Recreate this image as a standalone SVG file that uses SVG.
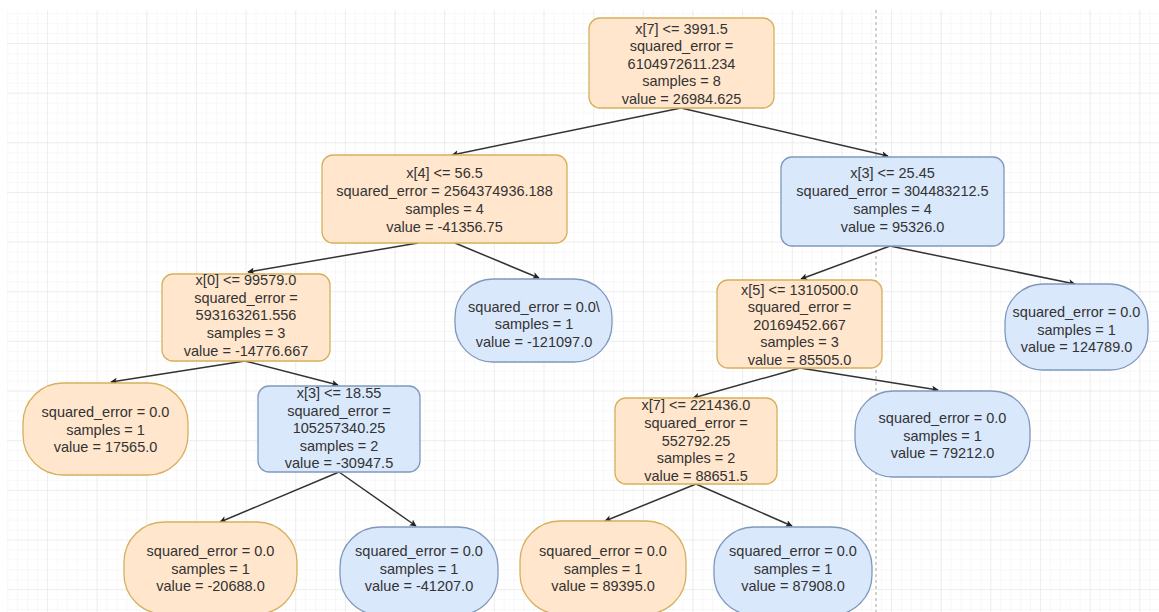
<svg xmlns="http://www.w3.org/2000/svg" width="1159" height="612" viewBox="0 0 1159 612">
<defs>
<pattern id="minor" x="47" y="43" width="9.93" height="9.93" patternUnits="userSpaceOnUse">
<path d="M0 0H9.93M0 0V9.93" fill="none" stroke="#f1f1f1" stroke-width="1"/>
</pattern>
<pattern id="major" x="47" y="43" width="49.65" height="49.65" patternUnits="userSpaceOnUse">
<path d="M0 0H49.65M0 0V49.65" fill="none" stroke="#e3e3e3" stroke-width="1"/>
</pattern>
<marker id="arr" viewBox="0 0 10 10" refX="9" refY="5" markerWidth="7" markerHeight="7" orient="auto" markerUnits="userSpaceOnUse">
<path d="M0 0L10 5L0 10L2.5 5Z" fill="#222"/>
</marker>
<style>
.o{fill:#ffe6cc;stroke:#d6b05c;stroke-width:1.3}
.b{fill:#dae8fc;stroke:#7f98bd;stroke-width:1.3}
text{font-family:"Liberation Sans",Arial,sans-serif;font-size:14.5px;fill:#333;text-anchor:middle}
.e{stroke:#333;stroke-width:1.5;fill:none;marker-end:url(#arr)}
</style>
</defs>
<rect width="1159" height="612" fill="#fff"/>
<rect x="7" y="10" width="1152" height="602" fill="url(#minor)"/>
<rect x="7" y="10" width="1152" height="602" fill="url(#major)"/>
<line x1="876" y1="10" x2="876" y2="612" stroke="#b5b5b5" stroke-width="1.2" stroke-dasharray="3 3"/>

<g id="connectors">
<path class="e" d="M681 108L452 155"/>
<path class="e" d="M681 108L888 156"/>
<path class="e" d="M418 243L248 272"/>
<path class="e" d="M455 243L539 278"/>
<path class="e" d="M890 246L801 279"/>
<path class="e" d="M890 246L1075 284"/>
<path class="e" d="M245 361L111 382"/>
<path class="e" d="M245 361L338 385"/>
<path class="e" d="M800 368L693 398"/>
<path class="e" d="M800 368L938 390"/>
<path class="e" d="M339 472L220 522"/>
<path class="e" d="M339 472L416 526"/>
<path class="e" d="M696 484L605 521"/>
<path class="e" d="M696 484L792 526"/>
</g>

<g id="n0">
<rect class="o" x="589" y="18" width="185" height="90" rx="11"/>
<text x="681.5" y="33.5">x[7] &lt;= 3991.5<tspan x="681.5" dy="17.5">squared_error =</tspan><tspan x="681.5" dy="17.5">6104972611.234</tspan><tspan x="681.5" dy="17.5">samples = 8</tspan><tspan x="681.5" dy="17.5">value = 26984.625</tspan></text>
</g>
<g id="n1">
<rect class="o" x="322" y="155" width="245" height="88" rx="11"/>
<text x="444.5" y="178">x[4] &lt;= 56.5<tspan x="444.5" dy="18">squared_error = 2564374936.188</tspan><tspan x="444.5" dy="18">samples = 4</tspan><tspan x="444.5" dy="18">value = -41356.75</tspan></text>
</g>
<g id="n2">
<rect class="b" x="781" y="157" width="223" height="89" rx="11"/>
<text x="892.5" y="178">x[3] &lt;= 25.45<tspan x="892.5" dy="18">squared_error = 304483212.5</tspan><tspan x="892.5" dy="18">samples = 4</tspan><tspan x="892.5" dy="18">value = 95326.0</tspan></text>
</g>
<g id="n3">
<rect class="o" x="162" y="274" width="168" height="87" rx="11"/>
<text x="246" y="285">x[0] &lt;= 99579.0<tspan x="246" dy="17.7">squared_error =</tspan><tspan x="246" dy="17.7">593163261.556</tspan><tspan x="246" dy="17.7">samples = 3</tspan><tspan x="246" dy="17.7">value = -14776.667</tspan></text>
</g>
<g id="n4">
<rect class="b" x="455" y="279" width="157" height="83" rx="38"/>
<text x="534" y="312">squared_error = 0.0\<tspan x="534" dy="17.3">samples = 1</tspan><tspan x="534" dy="17.3">value = -121097.0</tspan></text>
</g>
<g id="n5">
<rect class="o" x="717" y="280" width="165" height="88" rx="11"/>
<text x="799.5" y="294.5">x[5] &lt;= 1310500.0<tspan x="799.5" dy="17.5">squared_error =</tspan><tspan x="799.5" dy="17.5">20169452.667</tspan><tspan x="799.5" dy="17.5">samples = 3</tspan><tspan x="799.5" dy="17.5">value = 85505.0</tspan></text>
</g>
<g id="n6">
<rect class="b" x="1005" y="284" width="143" height="86" rx="38"/>
<text x="1076.5" y="317">squared_error = 0.0<tspan x="1076.5" dy="17.5">samples = 1</tspan><tspan x="1076.5" dy="17.5">value = 124789.0</tspan></text>
</g>
<g id="n7">
<rect class="o" x="23" y="383" width="165" height="92" rx="40"/>
<text x="105.5" y="417">squared_error = 0.0<tspan x="105.5" dy="17.5">samples = 1</tspan><tspan x="105.5" dy="17.5">value = 17565.0</tspan></text>
</g>
<g id="n8">
<rect class="b" x="258" y="386" width="162" height="86" rx="11"/>
<text x="339" y="398">x[3] &lt;= 18.55<tspan x="339" dy="17.6">squared_error =</tspan><tspan x="339" dy="17.6">105257340.25</tspan><tspan x="339" dy="17.6">samples = 2</tspan><tspan x="339" dy="17.6">value = -30947.5</tspan></text>
</g>
<g id="n9">
<rect class="o" x="615" y="398" width="162" height="86" rx="11"/>
<text x="696" y="410">x[7] &lt;= 221436.0<tspan x="696" dy="17.8">squared_error =</tspan><tspan x="696" dy="17.8">552792.25</tspan><tspan x="696" dy="17.8">samples = 2</tspan><tspan x="696" dy="17.8">value = 88651.5</tspan></text>
</g>
<g id="n10">
<rect class="b" x="855" y="391" width="175" height="86" rx="38"/>
<text x="942.5" y="423">squared_error = 0.0<tspan x="942.5" dy="17.5">samples = 1</tspan><tspan x="942.5" dy="17.5">value = 79212.0</tspan></text>
</g>
<g id="n11">
<rect class="o" x="124" y="522" width="173" height="92" rx="40"/>
<text x="210.5" y="556">squared_error = 0.0<tspan x="210.5" dy="17.5">samples = 1</tspan><tspan x="210.5" dy="17.5">value = -20688.0</tspan></text>
</g>
<g id="n12">
<rect class="b" x="340" y="527" width="158" height="88" rx="40"/>
<text x="419" y="556">squared_error = 0.0<tspan x="419" dy="17.5">samples = 1</tspan><tspan x="419" dy="17.5">value = -41207.0</tspan></text>
</g>
<g id="n13">
<rect class="o" x="520" y="521" width="166" height="93" rx="40"/>
<text x="603" y="556">squared_error = 0.0<tspan x="603" dy="17.5">samples = 1</tspan><tspan x="603" dy="17.5">value = 89395.0</tspan></text>
</g>
<g id="n14">
<rect class="b" x="714" y="527" width="158" height="88" rx="40"/>
<text x="793" y="556">squared_error = 0.0<tspan x="793" dy="17.5">samples = 1</tspan><tspan x="793" dy="17.5">value = 87908.0</tspan></text>
</g>
</svg>
